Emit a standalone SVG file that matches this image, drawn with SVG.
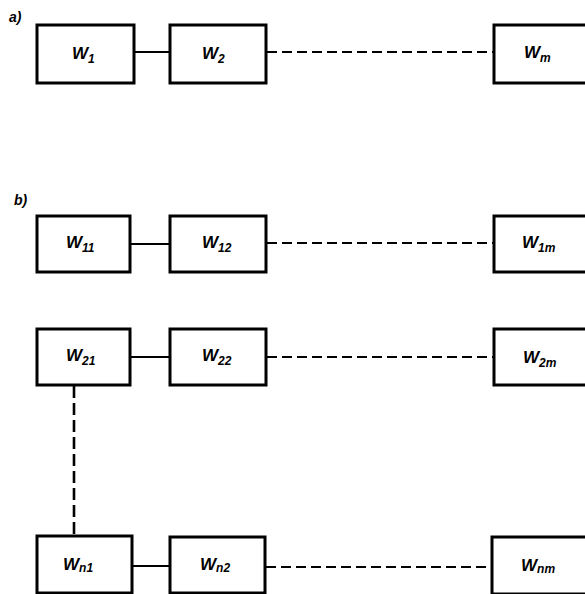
<svg xmlns="http://www.w3.org/2000/svg" width="585" height="594" viewBox="0 0 585 594">
<style>
.box{fill:#fff;stroke:#000;stroke-width:3}
.lbl{font-family:"Liberation Sans",Arial,sans-serif;font-style:italic;font-weight:bold;font-size:17px;fill:#000}
.sub{font-size:12px}
.tag{font-family:"Liberation Sans",Arial,sans-serif;font-style:italic;font-weight:bold;font-size:14px;fill:#000}
.solid{stroke:#000;stroke-width:1.8;fill:none}
.dash{stroke:#000;stroke-width:1.8;fill:none;stroke-dasharray:10 5}
.vdash{stroke:#000;stroke-width:2.6;fill:none;stroke-dasharray:12 5}
</style>
<rect width="585" height="594" fill="#fff"/>
<text class="tag" x="9" y="22">a)</text>
<text class="tag" x="14" y="205">b)</text>
<g id="connectors">
<line class="solid" x1="134" y1="52" x2="170" y2="52"/>
<line class="dash" x1="267" y1="52" x2="494" y2="52"/>
<line class="solid" x1="130" y1="244" x2="170" y2="244"/>
<line class="dash" x1="267" y1="243" x2="494" y2="243"/>
<line class="solid" x1="130" y1="357" x2="170" y2="357"/>
<line class="dash" x1="267" y1="357" x2="494" y2="357"/>
<line class="vdash" x1="74" y1="386" x2="74" y2="536"/>
<line class="solid" x1="132" y1="566" x2="170" y2="566"/>
<line class="dash" x1="266" y1="567" x2="492" y2="567"/>
</g>
<g id="W1"><rect class="box" x="37" y="25" width="97" height="58"/><text class="lbl" x="72" y="59">W<tspan class="sub" dy="4">1</tspan></text></g>
<g id="W2"><rect class="box" x="170" y="25" width="96" height="58"/><text class="lbl" x="202" y="59">W<tspan class="sub" dy="4">2</tspan></text></g>
<g id="Wm"><rect class="box" x="494" y="25" width="110" height="58"/><text class="lbl" x="524" y="58">W<tspan class="sub" dy="4">m</tspan></text></g>
<g id="W11"><rect class="box" x="37" y="216" width="93" height="56"/><text class="lbl" x="66" y="248">W<tspan class="sub" dy="4">11</tspan></text></g>
<g id="W12"><rect class="box" x="170" y="216" width="96" height="56"/><text class="lbl" x="202" y="248">W<tspan class="sub" dy="4">12</tspan></text></g>
<g id="W1m"><rect class="box" x="494" y="216" width="110" height="56"/><text class="lbl" x="522" y="248">W<tspan class="sub" dy="4">1m</tspan></text></g>
<g id="W21"><rect class="box" x="37" y="329" width="93" height="56"/><text class="lbl" x="66" y="361">W<tspan class="sub" dy="4">21</tspan></text></g>
<g id="W22"><rect class="box" x="170" y="329" width="96" height="56"/><text class="lbl" x="202" y="361">W<tspan class="sub" dy="4">22</tspan></text></g>
<g id="W2m"><rect class="box" x="494" y="329" width="110" height="56"/><text class="lbl" x="523" y="363">W<tspan class="sub" dy="4">2m</tspan></text></g>
<g id="Wn1"><rect class="box" x="37" y="536" width="95" height="57"/><text class="lbl" x="63" y="570">W<tspan class="sub" dy="2">n1</tspan></text></g>
<g id="Wn2"><rect class="box" x="170" y="537" width="95" height="56"/><text class="lbl" x="200" y="570">W<tspan class="sub" dy="2">n2</tspan></text></g>
<g id="Wnm"><rect class="box" x="492" y="537" width="112" height="57"/><text class="lbl" x="521" y="571">W<tspan class="sub" dy="2">nm</tspan></text></g>
</svg>
